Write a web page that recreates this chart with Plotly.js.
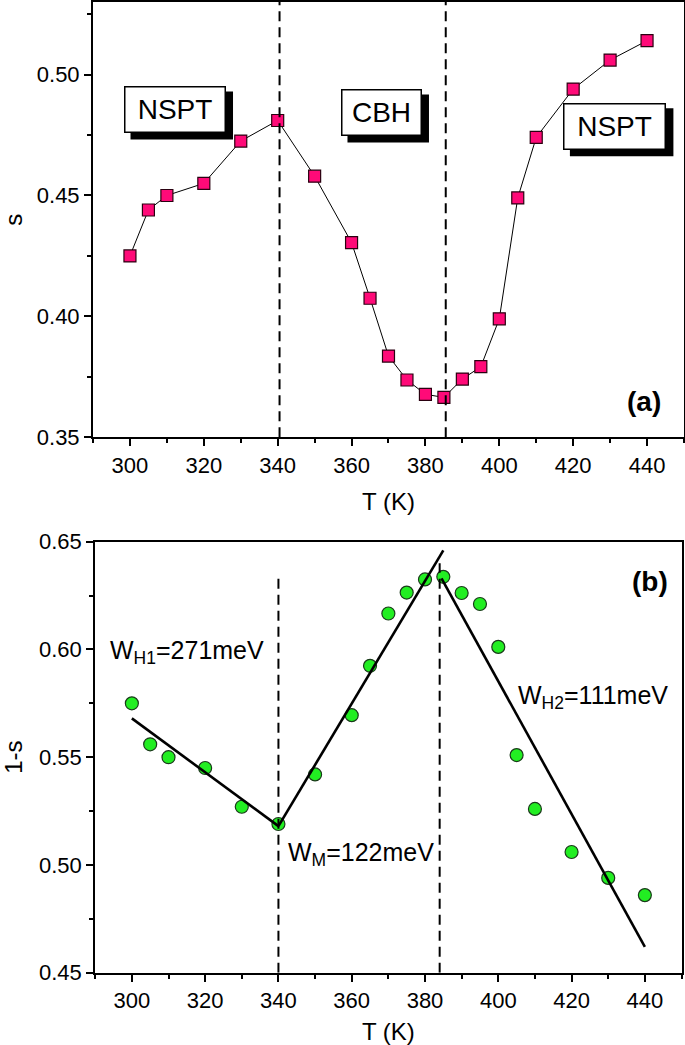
<!DOCTYPE html>
<html>
<head>
<meta charset="utf-8">
<script src="https://cdn.plot.ly/plotly-3.0.1.min.js"></script>
<style>html,body{margin:0;padding:0;background:#fff;}#chart{width:685px;height:1045px;}</style>
</head>
<body>
<div id="chart"></div>
<script>
// ---- data ----
const temperatureA = [300,305,310,320,330,340,350,360,365,370,375,380,385,390,395,400,405,410,420,430,440];
const sValues      = [0.425,0.444,0.450,0.455,0.4725,0.481,0.458,0.4305,0.4075,0.3836,0.3737,0.3678,0.3665,0.3741,0.3792,0.399,0.449,0.474,0.494,0.506,0.514];

const temperatureB = [300,305,310,320,330,340,350,360,365,370,375,380,385,390,395,400,405,410,420,430,440];
const oneMinusS    = [0.575,0.556,0.550,0.545,0.527,0.519,0.542,0.5695,0.5924,0.6167,0.6264,0.6325,0.6337,0.6262,0.6211,0.6012,0.551,0.526,0.506,0.494,0.486];

// linear fits in panel (b)
const fit1T = [300, 340],   fit1Y = [0.568, 0.518];
const fit2T = [340, 385],   fit2Y = [0.518, 0.646];
const fit3T = [384.5, 440], fit3Y = [0.633, 0.462];

// dashed dividers
const dividersA = [340.5, 385.5];
const dividerARange = [0.35, 0.53];
const dividersB = [340, 384];
const dividerBTop = [0.635, 0.64];

// region labels
const regionLabels = ['NSPT', 'CBH', 'NSPT'];
const regionT = [312.2, 368.1, 431.3];
const regionS = [0.4855, 0.4843, 0.4786];
const regionW = [99, 78, 100];

const energyLabels = ['W<sub>H1</sub>=271meV', 'W<sub>M</sub>=122meV', 'W<sub>H2</sub>=111meV'];
const energyT = [293.6, 342.2, 404.7];
const energyY = [0.5990, 0.5050, 0.5780];

// ---- traces ----
const FONT = 'Liberation Sans, Arial, Helvetica, sans-serif';
const traces = [];

traces.push({
  x: temperatureA, y: sValues, xaxis: 'x', yaxis: 'y', type: 'scatter', mode: 'lines+markers',
  line: {color: '#000', width: 1},
  marker: {symbol: 'square', size: 12, color: '#FF0A78', line: {color: '#2a0010', width: 1.2}},
  hoverinfo: 'x+y'
});
dividersA.forEach(t => traces.push({
  x: [t, t], y: dividerARange, xaxis: 'x', yaxis: 'y', type: 'scatter', mode: 'lines',
  line: {color: '#000', width: 2, dash: '10px,6px'}, hoverinfo: 'skip'
}));

traces.push({
  x: temperatureB, y: oneMinusS, xaxis: 'x2', yaxis: 'y2', type: 'scatter', mode: 'markers',
  marker: {symbol: 'circle', size: 13, color: '#22EE22', line: {color: '#1a3a1a', width: 1.2}},
  hoverinfo: 'x+y'
});
[[fit1T, fit1Y], [fit2T, fit2Y], [fit3T, fit3Y]].forEach(([fx, fy]) => traces.push({
  x: fx, y: fy, xaxis: 'x2', yaxis: 'y2', type: 'scatter', mode: 'lines',
  line: {color: '#000', width: 2.6}, hoverinfo: 'skip'
}));
dividersB.forEach((t, i) => traces.push({
  x: [t, t], y: [0.45, dividerBTop[i]], xaxis: 'x2', yaxis: 'y2', type: 'scatter', mode: 'lines',
  line: {color: '#000', width: 2, dash: '10px,6px'}, hoverinfo: 'skip'
}));

// ---- label boxes: drop shadow as pixel-sized shapes, box as annotation ----
const BOX_H = 44;
const shapes = regionLabels.map((txt, i) => ({
  type: 'rect', xref: 'x', yref: 'y', layer: 'above',
  xsizemode: 'pixel', ysizemode: 'pixel', xanchor: regionT[i], yanchor: regionS[i],
  x0: -regionW[i] / 2 + 5, x1: regionW[i] / 2 + 8.5,
  y0: -BOX_H / 2 - 8, y1: BOX_H / 2 - 4,
  fillcolor: '#000', line: {width: 0}
}));

const annotations = [];
regionLabels.forEach((txt, i) => {
  annotations.push({
    x: regionT[i], y: regionS[i], xref: 'x', yref: 'y', text: txt, showarrow: false,
    width: regionW[i], height: BOX_H, bgcolor: '#fff', bordercolor: '#000', borderwidth: 1.5, borderpad: 0,
    align: 'center', valign: 'middle', font: {size: 28, family: FONT, color: '#000'}
  });
});
annotations.push({x: 439.3, y: 0.3648, xref: 'x', yref: 'y', text: '<b>(a)</b>', showarrow: false,
  font: {size: 28, family: FONT, color: '#000'}});
annotations.push({x: 441.5, y: 0.6314, xref: 'x2', yref: 'y2', text: '<b>(b)</b>', showarrow: false,
  font: {size: 28, family: FONT, color: '#000'}});
energyLabels.forEach((txt, i) => annotations.push({
  x: energyT[i], y: energyY[i], xref: 'x2', yref: 'y2', text: txt, showarrow: false,
  xanchor: 'left', yanchor: 'middle', font: {size: 25, family: FONT, color: '#000'}
}));

// ---- axes ----
function xAxis(domain, anchor) {
  return {
    domain: domain, anchor: anchor, range: [290, 450], tick0: 300, dtick: 20,
    ticks: 'outside', ticklen: 7, tickwidth: 2, tickcolor: '#000',
    minor: {dtick: 10, tick0: 300, ticks: 'outside', ticklen: 4, tickwidth: 2, tickcolor: '#000', showgrid: false},
    showline: true, linewidth: 2, linecolor: '#000', mirror: true,
    showgrid: false, zeroline: false, automargin: false,
    tickfont: {size: 22, family: FONT, color: '#000'},
    title: {text: 'T (K)', font: {size: 24, family: FONT, color: '#000'}, standoff: 16}
  };
}
function yAxis(domain, anchor, range, title) {
  return {
    domain: domain, anchor: anchor, range: range, tick0: range[0], dtick: 0.05, tickformat: '.2f',
    ticks: 'outside', ticklen: 7, tickwidth: 2, tickcolor: '#000',
    minor: {dtick: 0.025, ticks: 'outside', ticklen: 4, tickwidth: 2, tickcolor: '#000', showgrid: false},
    showline: true, linewidth: 2, linecolor: '#000', mirror: true,
    showgrid: false, zeroline: false, automargin: false,
    tickfont: {size: 22, family: FONT, color: '#000'},
    title: {text: title, font: {size: 24, family: FONT, color: '#000'}, standoff: 18}
  };
}

const layout = {
  width: 685, height: 1045,
  margin: {l: 0, r: 0, t: 0, b: 0},
  paper_bgcolor: '#fff', plot_bgcolor: '#fff',
  showlegend: false,
  font: {family: FONT, color: '#000'},
  xaxis: xAxis([0.1358, 0.9985], 'y'),
  yaxis: yAxis([0.5815, 0.9981], 'x', [0.35, 0.53], 's'),
  xaxis2: xAxis([0.139, 0.9949], 'y2'),
  yaxis2: yAxis([0.0692, 0.4816], 'x2', [0.45, 0.65], '1-s'),
  shapes: shapes,
  annotations: annotations
};

Plotly.newPlot('chart', traces, layout, {displayModeBar: false, staticPlot: true});
</script>
</body>
</html>
